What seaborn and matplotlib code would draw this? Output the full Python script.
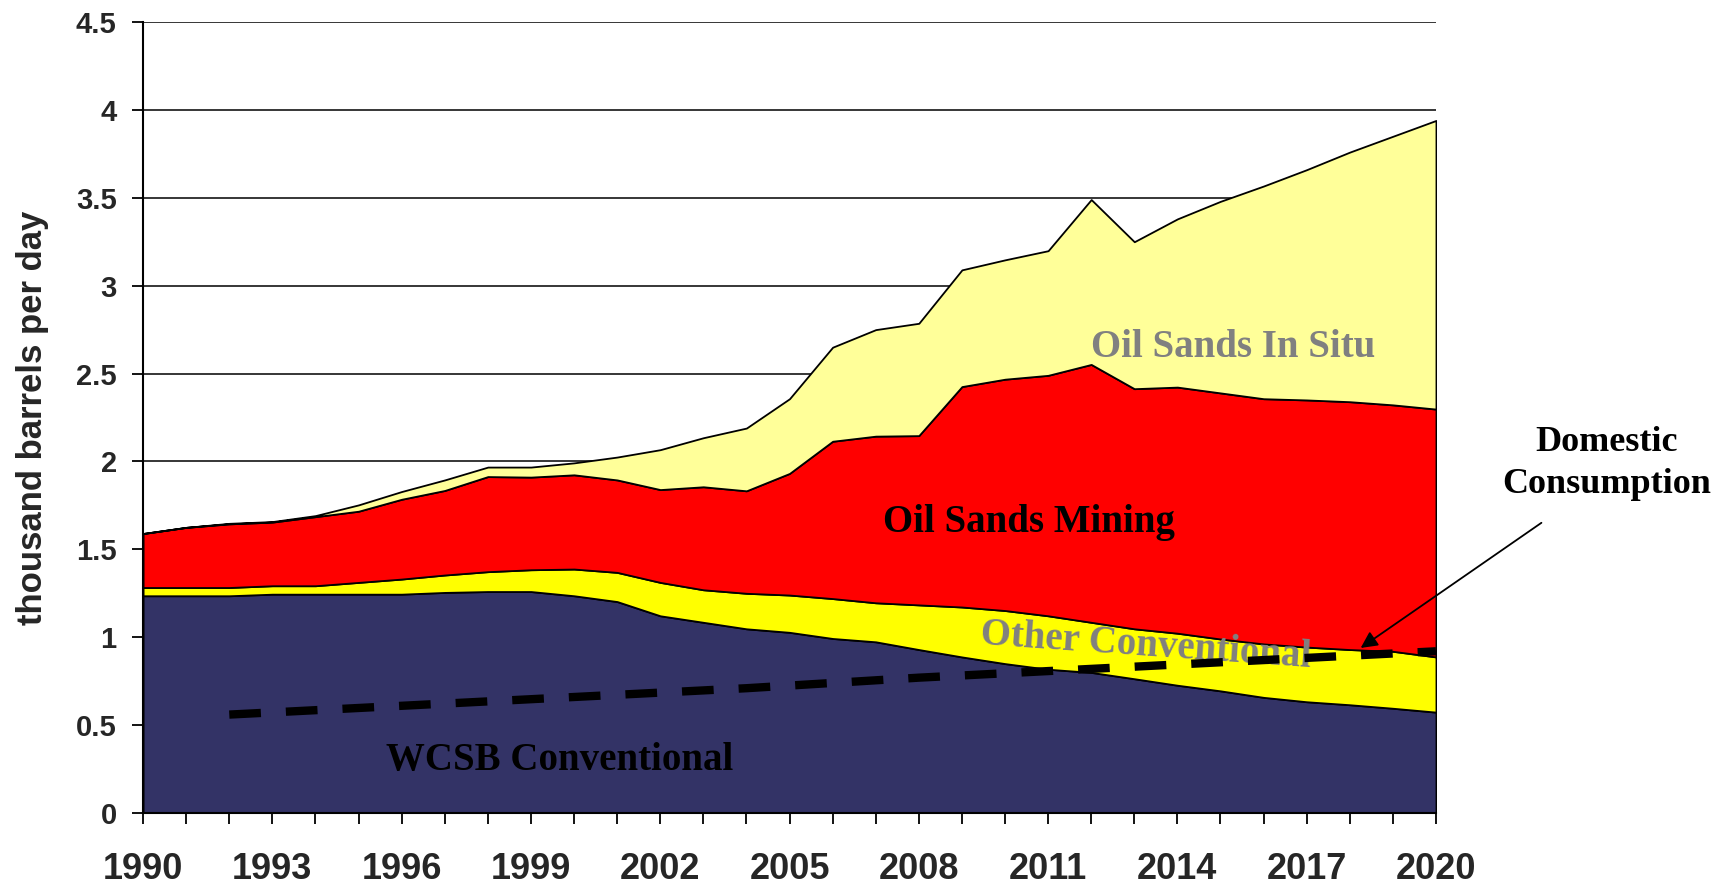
import matplotlib
matplotlib.use('Agg')
import matplotlib.pyplot as plt
import seaborn as sns
import pandas as pd

# yearly production by source, thousand barrels per day
years = list(range(1990, 2021))
wcsb_conventional = [1.236, 1.236, 1.236, 1.245, 1.245, 1.245, 1.245, 1.255, 1.260, 1.260,
                     1.236, 1.203, 1.122, 1.085, 1.048, 1.028, 0.993, 0.974, 0.930, 0.888,
                     0.850, 0.818, 0.800, 0.764, 0.727, 0.695, 0.658, 0.633, 0.616, 0.596,
                     0.574]
other_conventional = [0.047, 0.047, 0.047, 0.048, 0.048, 0.067, 0.086, 0.099, 0.113, 0.124,
                      0.152, 0.166, 0.190, 0.185, 0.202, 0.212, 0.227, 0.222, 0.254, 0.284,
                      0.302, 0.304, 0.285, 0.284, 0.296, 0.295, 0.304, 0.311, 0.314, 0.324,
                      0.314]
oil_sands_mining = [0.307, 0.342, 0.362, 0.362, 0.393, 0.405, 0.454, 0.481, 0.541, 0.527,
                    0.536, 0.526, 0.528, 0.586, 0.583, 0.692, 0.895, 0.948, 0.963, 1.254,
                    1.316, 1.368, 1.467, 1.366, 1.400, 1.400, 1.395, 1.406, 1.410, 1.402,
                    1.410]
oil_sands_in_situ = [0.000, 0.000, 0.003, 0.003, 0.006, 0.036, 0.044, 0.060, 0.054, 0.057,
                     0.068, 0.130, 0.227, 0.279, 0.357, 0.425, 0.535, 0.606, 0.639, 0.664,
                     0.679, 0.709, 0.938, 0.836, 0.957, 1.090, 1.210, 1.310, 1.420, 1.528,
                     1.642]

# domestic consumption (dashed line)
consumption_years = [1992, 1996, 2000, 2004, 2008, 2012, 2016, 2020]
domestic_consumption = [0.56, 0.61, 0.66, 0.71, 0.77, 0.82, 0.87, 0.92]

x_tick_years = list(range(1990, 2021, 3))
y_ticks = [0, 0.5, 1, 1.5, 2, 2.5, 3, 3.5, 4, 4.5]
y_tick_labels = ['0', '0.5', '1', '1.5', '2', '2.5', '3', '3.5', '4', '4.5']

sns.set_style('white')
plt.rcParams['font.family'] = ['Liberation Sans', 'DejaVu Sans']

fig = plt.figure(figsize=(17.28, 8.84), dpi=100)
ax = fig.add_axes([0.0828, 0.0803, 0.831 - 0.0828, 0.9751 - 0.0803])

# stacked areas
ax.stackplot(years, wcsb_conventional, other_conventional, oil_sands_mining, oil_sands_in_situ,
             colors=['#333366', '#FFFF00', '#FF0000', '#FFFF99'],
             edgecolor='black', linewidth=1.3, zorder=2)

# domestic consumption
cons = pd.DataFrame({'year': consumption_years, 'value': domestic_consumption})
sns.lineplot(data=cons, x='year', y='value', ax=ax, color='black', lw=6,
             linestyle=(0, (3.8, 3.0)), solid_capstyle='butt', dash_capstyle='butt', zorder=4)

ax.set_xlim(1990, 2020)
ax.set_ylim(0, 4.5)
ax.set_yticks(y_ticks)
ax.set_yticklabels(y_tick_labels)
ax.set_xticks(years, minor=True)
ax.set_xticks(x_tick_years)
ax.set_xticklabels([str(y) for y in x_tick_years])
ax.grid(axis='y', color='black', linewidth=1.1)
ax.set_axisbelow(True)

for s in ['top', 'right']:
    ax.spines[s].set_visible(False)
for s in ['left', 'bottom']:
    ax.spines[s].set_color('black')
    ax.spines[s].set_linewidth(1.5)
    ax.spines[s].set_zorder(5)

ax.tick_params(axis='x', which='both', direction='out', length=8, width=1.3, color='black',
               bottom=True)
ax.tick_params(axis='x', which='major', labelsize=26, pad=20)
ax.tick_params(axis='y', direction='out', length=8, width=1.3, color='black', left=True,
               labelsize=21, pad=11)
for lab in ax.get_xticklabels() + ax.get_yticklabels():
    lab.set_fontweight('bold')

ax.set_xlabel('')
ax.set_ylabel('thousand barrels per day', fontsize=25, fontweight='bold')
ax.yaxis.set_label_coords(-0.073, 0.5)

serif = ['Liberation Serif', 'DejaVu Serif']
ax.text(2015.3, 2.65, 'Oil Sands In Situ', color='#808080', fontsize=28, fontweight='bold',
        family=serif, ha='center', va='center', zorder=6)
ax.text(2010.56, 1.655, 'Oil Sands Mining', color='black', fontsize=28, fontweight='bold',
        family=serif, ha='center', va='center', zorder=6)
ax.text(2013.27, 0.95, 'Other Conventional', color='#808080', fontsize=28, fontweight='bold',
        family=serif, ha='center', va='center', rotation=-4, zorder=3)
ax.text(1999.67, 0.30, 'WCSB Conventional', color='black', fontsize=28, fontweight='bold',
        family=serif, ha='center', va='center', zorder=6)

ax.text(2023.96, 1.99, 'Domestic\nConsumption', color='black', fontsize=26, fontweight='bold',
        family=serif, ha='center', va='center', linespacing=1.35, clip_on=False)
ax.annotate('', xy=(2018.2, 0.93), xytext=(2022.5, 1.66), xycoords='data',
            arrowprops=dict(arrowstyle='-|>', color='black', lw=1.3, mutation_scale=25),
            annotation_clip=False, zorder=7)

fig.savefig('out.png', dpi=100)
